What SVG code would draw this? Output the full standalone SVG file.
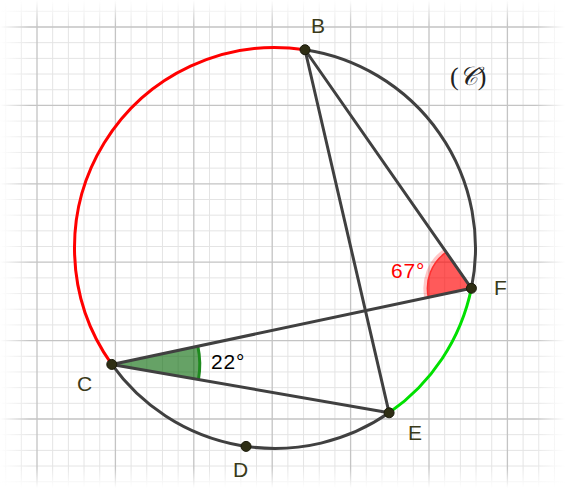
<svg xmlns="http://www.w3.org/2000/svg" width="565" height="488" viewBox="0 0 565 488">
<style>
.minor{stroke:#e4e4e4;stroke-width:1;fill:none}
.major{stroke:#c4c4c4;stroke-width:1.3;fill:none}
.seg{stroke:#404040;stroke-width:3;fill:none;stroke-linecap:round}
.arc{stroke-width:3;fill:none}
.pt{fill:#2e2e14;stroke:#1a1a0a;stroke-width:1}
.lbl{font-family:"Liberation Sans",Arial,sans-serif;font-size:21px;fill:#3a3a1a}
</style>
<defs>
<linearGradient id="fl" x1="0" y1="0" x2="1" y2="0"><stop offset="0" stop-color="#fff" stop-opacity="1"/><stop offset="1" stop-color="#fff" stop-opacity="0"/></linearGradient>
<linearGradient id="fr" x1="1" y1="0" x2="0" y2="0"><stop offset="0" stop-color="#fff" stop-opacity="1"/><stop offset="1" stop-color="#fff" stop-opacity="0"/></linearGradient>
<linearGradient id="ft" x1="0" y1="0" x2="0" y2="1"><stop offset="0" stop-color="#fff" stop-opacity="1"/><stop offset="1" stop-color="#fff" stop-opacity="0"/></linearGradient>
<linearGradient id="fb" x1="0" y1="1" x2="0" y2="0"><stop offset="0" stop-color="#fff" stop-opacity="1"/><stop offset="1" stop-color="#fff" stop-opacity="0"/></linearGradient>
</defs>
<rect width="565" height="488" fill="#fff"/>
<g id="grid">
<path class="minor" d="M5.64 0V488M21.32 0V488M52.68 0V488M68.36 0V488M84.04 0V488M99.72 0V488M131.08 0V488M146.76 0V488M162.44 0V488M178.12 0V488M209.48 0V488M225.16 0V488M240.84 0V488M256.52 0V488M287.88 0V488M303.56 0V488M319.24 0V488M334.92 0V488M366.28 0V488M381.96 0V488M397.64 0V488M413.32 0V488M444.68 0V488M460.36 0V488M476.04 0V488M491.72 0V488M523.08 0V488M538.76 0V488M554.44 0V488"/>
<path class="minor" d="M0 11.32H565M0 42.68H565M0 58.36H565M0 74.04H565M0 89.72H565M0 121.08H565M0 136.76H565M0 152.44H565M0 168.12H565M0 199.48H565M0 215.16H565M0 230.84H565M0 246.52H565M0 277.88H565M0 293.56H565M0 309.24H565M0 324.92H565M0 356.28H565M0 371.96H565M0 387.64H565M0 403.32H565M0 434.68H565M0 450.36H565M0 466.04H565M0 481.72H565"/>
<path class="major" d="M37 0V488M115.4 0V488M193.8 0V488M272.2 0V488M350.6 0V488M429 0V488M507.4 0V488M0 27H565M0 105.4H565M0 183.8H565M0 262.2H565M0 340.6H565M0 419H565"/>
<rect x="0" y="0" width="30" height="488" fill="url(#fl)"/>
<rect x="535" y="0" width="30" height="488" fill="url(#fr)"/>
<rect x="0" y="0" width="565" height="25" fill="url(#ft)"/>
<rect x="0" y="468" width="565" height="20" fill="url(#fb)"/>
</g>
<g id="angle-F">
<path d="M471.4 288.3L424.4 298.2A48 48 0 0 1 443.9 248.9Z" fill="#ff0000" fill-opacity="0.22"/>
<path d="M471.4 288.3L428.35 297.41A44 44 0 0 1 446.23 252.21Z" fill="#ff0000" fill-opacity="0.55" stroke="#ff3030" stroke-width="1.5"/>
</g>
<g id="angle-C">
<path d="M111.77 364.43L197.86 346.21A88 88 0 0 1 198.46 379.55Z" fill="#006400" fill-opacity="0.6"/>
<path d="M197.86 346.21A88 88 0 0 1 198.46 379.55" fill="none" stroke="#1f8a1f" stroke-width="3"/>
</g>
<g id="circle">
<path class="arc" stroke="#ff0000" d="M305 49.75A200.5 200.5 0 0 0 111.77 364.43"/>
<path class="arc" stroke="#404040" d="M305 49.75A200.5 200.5 0 0 1 471.4 288.3"/>
<path class="arc" stroke="#00e000" d="M471.4 288.3A200.5 200.5 0 0 1 389.1 412.8"/>
<path class="arc" stroke="#404040" d="M389.1 412.8A200.5 200.5 0 0 1 111.77 364.43"/>
</g>
<g id="connectors">
<path class="seg" d="M305 49.75L471.4 288.3"/>
<path class="seg" d="M305 49.75L389.1 412.8"/>
<path class="seg" d="M111.77 364.43L471.4 288.3"/>
<path class="seg" d="M111.77 364.43L389.1 412.8"/>
</g>
<g id="B"><circle class="pt" cx="305" cy="49.75" r="5"/><text class="lbl" x="311" y="33">B</text></g>
<g id="F"><circle class="pt" cx="471.4" cy="288.3" r="5"/><text class="lbl" x="494" y="295">F</text></g>
<g id="C"><circle class="pt" cx="111.77" cy="364.43" r="5"/><text class="lbl" x="77" y="391">C</text></g>
<g id="E"><circle class="pt" cx="389.1" cy="412.8" r="5"/><text class="lbl" x="408" y="440">E</text></g>
<g id="D"><circle class="pt" cx="246.05" cy="446.4" r="5"/><text class="lbl" x="233" y="477">D</text></g>
<text x="391" y="277.5" font-family="Liberation Sans,Arial,sans-serif" font-size="21" letter-spacing="0.8" fill="#ff0000">67°</text>
<text x="211" y="369" font-family="Liberation Sans,Arial,sans-serif" font-size="21" letter-spacing="0.8" fill="#000">22°</text>
<text x="450" y="85" font-family="Liberation Serif,DejaVu Serif,serif" font-size="26" fill="#222">(<tspan font-family="DejaVu Sans,Noto Sans,serif" font-style="italic">𝒞</tspan>)</text>
</svg>
